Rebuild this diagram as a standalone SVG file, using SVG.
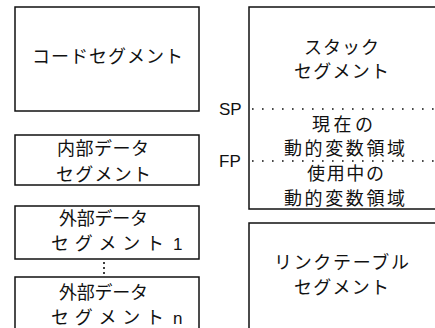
<svg xmlns="http://www.w3.org/2000/svg" width="435" height="328" viewBox="0 0 435 328">
<style>
.box{fill:#fff;stroke:#111;stroke-width:1.5}
.t{font-family:"Noto Sans CJK JP","Noto Sans",sans-serif;font-size:18px;fill:#111}
.lat{font-family:"Liberation Sans",Arial,sans-serif;font-size:17px;fill:#111}
.dot{stroke:#111;stroke-width:1.6;stroke-dasharray:1.6 8.4;fill:none}
</style>
<rect width="435" height="328" fill="#fff"/>
<g id="code-segment">
<rect class="box" x="15" y="7" width="184" height="104"/>
<text class="t" x="32" y="62.5" textLength="151">コードセグメント</text>
</g>
<g id="internal-data-segment">
<rect class="box" x="15" y="135" width="184" height="50"/>
<text class="t" x="57" y="155" textLength="92">内部データ</text>
<text class="t" x="56" y="181" textLength="95">セグメント</text>
</g>
<g id="external-data-segment-1">
<rect class="box" x="15" y="206" width="184" height="53"/>
<text class="t" x="59" y="225" textLength="89">外部データ</text>
<text class="t" x="51" y="250" textLength="113">セグメント</text>
<text class="lat" x="173" y="250">1</text>
</g>
<g id="external-data-segment-n">
<rect class="box" x="15" y="277" width="184" height="70"/>
<text class="t" x="59" y="299" textLength="89">外部データ</text>
<text class="t" x="51" y="324" textLength="113">セグメント</text>
<text class="lat" x="173" y="324">n</text>
</g>
<g id="stack-segment">
<rect class="box" x="249" y="7" width="200" height="202"/>
<text class="t" x="304" y="54" textLength="75">スタック</text>
<text class="t" x="294" y="78" textLength="95">セグメント</text>
<line class="dot" x1="252" y1="109" x2="435" y2="109"/>
<text class="t" x="312" y="130.5" textLength="61">現在の</text>
<text class="t" x="284" y="155" textLength="121">動的変数領域</text>
<line class="dot" x1="252" y1="161" x2="435" y2="161"/>
<text class="t" x="307" y="179.5" textLength="77">使用中の</text>
<text class="t" x="284" y="204.5" textLength="121">動的変数領域</text>
<text class="lat" x="219" y="115">SP</text>
<text class="lat" x="219" y="167">FP</text>
</g>
<g id="link-table-segment">
<rect class="box" x="249" y="223" width="200" height="120"/>
<text class="t" x="274" y="269" textLength="135">リンクテーブル</text>
<text class="t" x="294" y="294" textLength="95">セグメント</text>
</g>
<g id="connectors">
<line x1="104" y1="262" x2="104" y2="276" stroke="#111" stroke-width="1.6" stroke-dasharray="2 3"/>
</g>
</svg>
